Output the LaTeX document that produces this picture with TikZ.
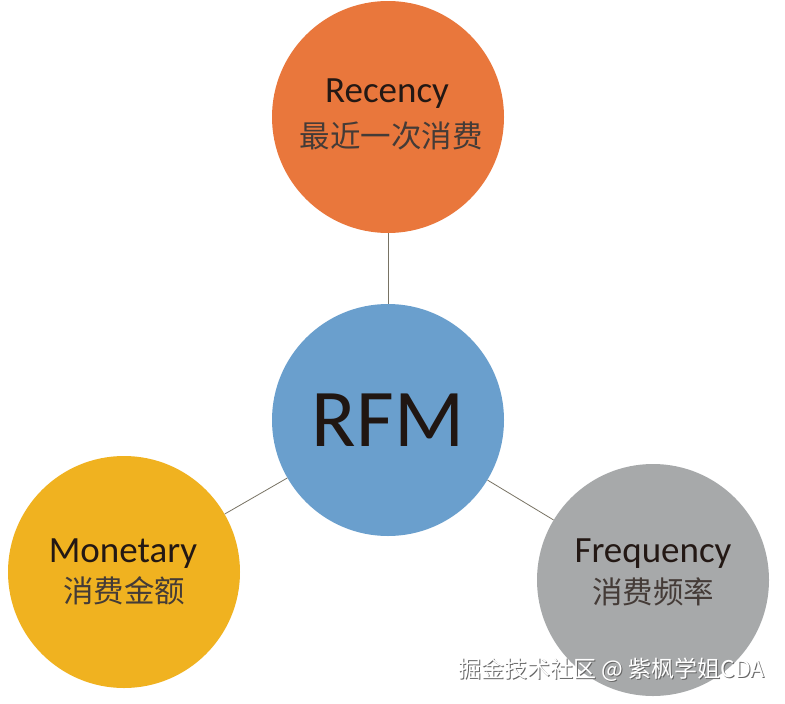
\documentclass[tikz,border=0pt]{standalone}
\usepackage{fontspec}
\setmainfont{Carlito}
\newfontfamily\cjk{Noto Sans CJK SC}
\definecolor{corange}{RGB}{233,119,60}
\definecolor{cblue}{RGB}{106,159,205}
\definecolor{cyellow}{RGB}{240,178,32}
\definecolor{cgray}{RGB}{167,169,170}
\definecolor{ctext}{RGB}{35,24,20}
\definecolor{cline}{RGB}{120,115,100}
\begin{document}
\begin{tikzpicture}[x=1pt,y=-1pt,
  bubble/.style={circle,minimum size=232pt,inner sep=0pt,draw=none},
  entxt/.style={font=\fontsize{37}{37}\selectfont,text=ctext,anchor=base,inner sep=0pt},
  cntxt/.style={font=\cjk\fontsize{30.5}{30.5}\selectfont,text=ctext!85,inner sep=0pt},
  link/.style={draw=cline,line width=0.8pt},
  wm/.style={font=\cjk\fontsize{23}{23}\selectfont,inner sep=0pt}]
\useasboundingbox (0,0) rectangle (785,704);
\fill[white] (0,0) rectangle (785,704);
% circles
\node[bubble,fill=corange] (T) at (388,117) {};
\node[bubble,fill=cblue] (C) at (388,420) {};
\node[bubble,fill=cyellow] (L) at (124,572) {};
\node[bubble,fill=cgray] (R) at (653,580) {};
% connectors
\draw[link] (C) -- (T);
\draw[link] (C) -- (L);
\draw[link] (C) -- (R);
% texts
\node[font=\fontsize{82}{82}\selectfont,text=ctext!90!black,inner sep=0pt] (rfm) at (388,420) {RFM};
\node[entxt] (rec) at (387,102) {Recency};
\node[cntxt] (recz) at (391,136) {最近一次消费};
\node[entxt] (mon) at (123,562) {Monetary};
\node[cntxt] (monz) at (124,591) {消费金额};
\node[entxt] (fre) at (653,562) {Frequency};
\node[cntxt] (frez) at (653,592) {消费频率};
% watermark
\node[wm,text=black!60,anchor=east] (wms) at (766,671) {掘金技术社区 @ 紫枫学姐CDA};
\node[wm,text=white,anchor=east] (wmt) at (765,670) {掘金技术社区 @ 紫枫学姐CDA};
\end{tikzpicture}
\end{document}
